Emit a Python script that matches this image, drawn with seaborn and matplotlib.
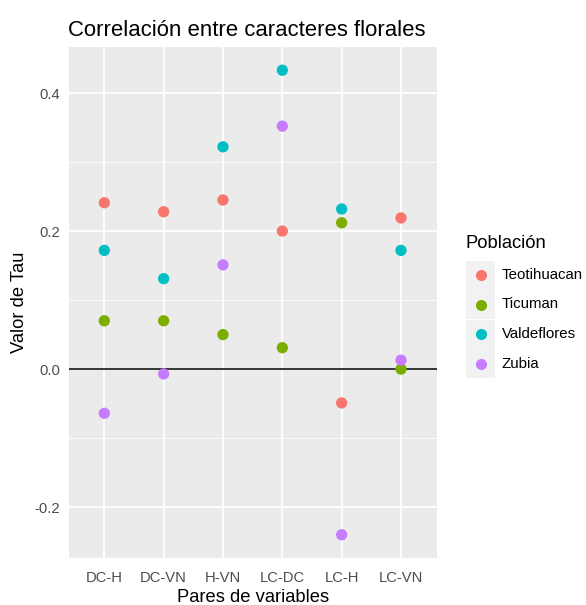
import numpy as np
import pandas as pd
import matplotlib
matplotlib.use("Agg")
import matplotlib.pyplot as plt
import seaborn as sns
from matplotlib.ticker import FixedLocator, MultipleLocator
from matplotlib.patches import Rectangle
from matplotlib.lines import Line2D

# Kendall tau per pair of floral traits and population
pares = ["DC-H", "DC-VN", "H-VN", "LC-DC", "LC-H", "LC-VN"]
poblaciones = ["Teotihuacan", "Ticuman", "Valdeflores", "Zubia"]
tau_teotihuacan = [0.241, 0.228, 0.245, 0.200, -0.049, 0.219]
tau_ticuman = [0.070, 0.070, 0.050, 0.031, 0.212, 0.000]
tau_valdeflores = [0.172, 0.131, 0.322, 0.433, 0.232, 0.172]
tau_zubia = [-0.064, -0.007, 0.151, 0.352, -0.240, 0.013]
colores = ["#F8766D", "#7CAE00", "#00BFC4", "#C77CFF"]
y_ticks = [-0.2, 0.0, 0.2, 0.4]

series = [tau_teotihuacan, tau_ticuman, tau_valdeflores, tau_zubia]
df = pd.DataFrame({
    "par": pares * len(poblaciones),
    "tau": [v for s in series for v in s],
    "poblacion": [p for p in poblaciones for _ in pares],
})

sns.set_style("white")
plt.rcParams["font.family"] = ["Liberation Sans", "DejaVu Sans"]

W, H = 586, 605
fig = plt.figure(figsize=(W / 100, H / 100), dpi=100)

def fx(px):
    return px / W

def fy(py):
    return 1 - py / H

left, right, top, bottom = 68.7, 436.6, 47, 558
ax = fig.add_axes([fx(left), fy(bottom), fx(right) - fx(left), fy(top) - fy(bottom)])
ax.set_facecolor("#EBEBEB")
for sp in ax.spines.values():
    sp.set_visible(False)

ax.axhline(0, color="black", lw=1.1, zorder=2)
sns.scatterplot(data=df, x="par", y="tau", hue="poblacion", hue_order=poblaciones,
                palette=colores, s=66, linewidth=0, legend=False, ax=ax, zorder=3)

# ggplot-like expansion of the scales
ymin, ymax = min(min(s) for s in series), max(max(s) for s in series)
pad = 0.05 * (ymax - ymin)
ax.set_ylim(ymin - pad, ymax + pad)
ax.set_xlim(-0.6, len(pares) - 0.4)

ax.yaxis.set_major_locator(FixedLocator(y_ticks))
ax.yaxis.set_minor_locator(MultipleLocator(0.1))
ax.set_yticklabels([f"{t:.1f}" for t in y_ticks])
ax.grid(which="major", color="white", lw=1.3, zorder=0)
ax.grid(which="minor", axis="y", color="white", lw=0.6, zorder=0)
ax.set_axisbelow(True)

ax.tick_params(axis="both", which="major", length=3.6, width=0.9, color="#333333",
               labelsize=10.6, labelcolor="#4D4D4D", pad=2.6)
ax.tick_params(axis="x", which="major", pad=5.5)
ax.tick_params(axis="y", which="minor", length=0)
ax.set_xlabel("")
ax.set_ylabel("")

fig.text(fx(68), fy(30), "Correlación entre caracteres florales", fontsize=15.9,
         ha="left", va="center", color="black")
fig.text(fx((left + right) / 2), fy(597), "Pares de variables", fontsize=13.2,
         ha="center", va="center", color="black")
fig.text(fx(20), fy((top + bottom) / 2), "Valor de Tau", fontsize=13.2, rotation=90,
         ha="center", va="center", color="black")

# Legend drawn as ggplot-style keys
fig.text(fx(466), fy(243), "Población", fontsize=13.2, ha="left", va="center", color="black")
key_w = 29
for i, (pob, col) in enumerate(zip(poblaciones, colores)):
    cy = 275 + 29.5 * i
    fig.add_artist(Rectangle((fx(466), fy(cy + key_w / 2)), fx(key_w), key_w / H,
                             transform=fig.transFigure, facecolor="#F2F2F2",
                             edgecolor="none"))
    fig.add_artist(Line2D([fx(480.5)], [fy(cy)], marker="o", markersize=8,
                          markerfacecolor=col, markeredgewidth=0, linestyle="none",
                          transform=fig.transFigure))
    fig.text(fx(502), fy(cy), pob, fontsize=10.8, ha="left", va="center", color="black")

fig.savefig("out.png", dpi=100, facecolor="white")
